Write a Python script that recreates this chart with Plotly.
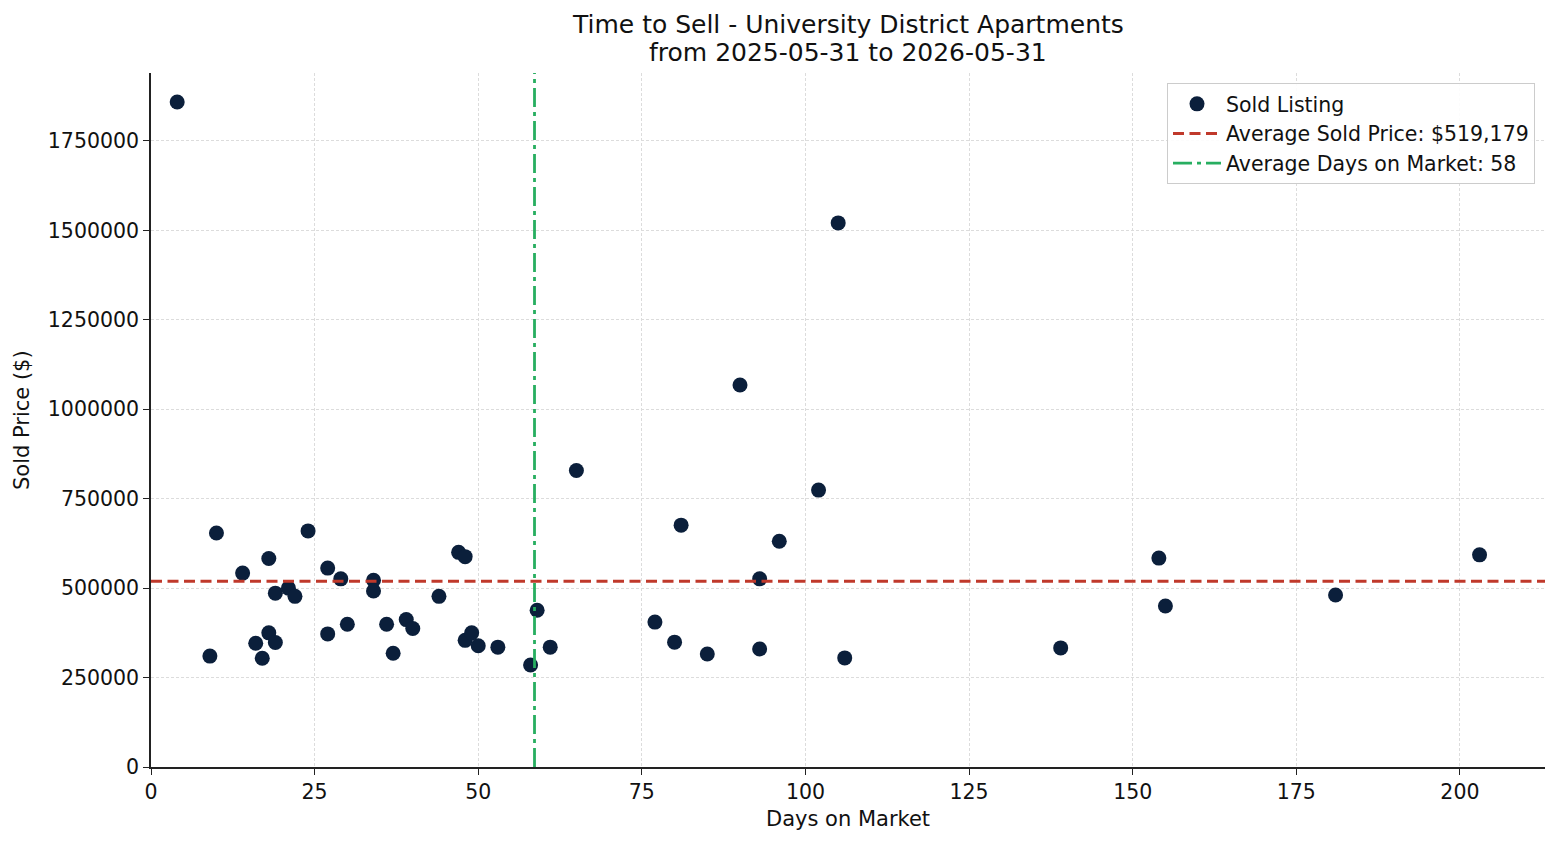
import plotly.graph_objects as go

# Data
days_on_market = [4, 9, 10, 14, 18, 16, 18, 19, 17, 19, 21, 22, 24, 27, 27, 29, 30, 34, 34, 36,
                  37, 39, 40, 44, 47, 48, 48, 49, 50, 53, 59, 58, 61,
                  90, 65, 102, 81, 96, 93, 77, 80, 85, 93, 106,
                  105, 139, 154, 155, 181, 203]
sold_price = [1859000, 310000, 654000, 542000, 583000, 346000, 375000, 348000, 304000, 486000,
              500000, 477000, 660000, 556000, 372000, 526000, 399000, 522000, 492000, 399000,
              318000, 412000, 387000, 477000, 600000, 588000, 354000, 375000, 339000, 335000,
              438000, 285000, 335000,
              1068000, 829000, 774000, 676000, 631000, 526000, 405000, 349000, 316000, 330000, 305000,
              1521000, 333000, 584000, 450000, 481000, 593000]
avg_price = 519179
avg_days = 58.6
title_lines = ["Time to Sell - University District Apartments", "from 2025-05-31 to 2026-05-31"]
x_label = "Days on Market"
y_label = "Sold Price ($)"

x_range = [0, 213]
y_range = [0, 1940000]

font_family = "DejaVu Sans"
ink = "#111111"

fig = go.Figure()
fig.add_trace(go.Scatter(
    x=days_on_market, y=sold_price, mode="markers", name="Sold Listing",
    marker=dict(size=15, color="#0b1f3b", line=dict(width=0)),
    hoverinfo="skip"))
fig.add_trace(go.Scatter(
    x=x_range, y=[avg_price, avg_price], mode="lines",
    name=f"Average Sold Price: ${avg_price:,}",
    line=dict(color="#c0392b", width=2.8, dash="11px,5.5px"), hoverinfo="skip"))
fig.add_trace(go.Scatter(
    x=[avg_days, avg_days], y=y_range, mode="lines",
    name=f"Average Days on Market: {int(avg_days)}",
    line=dict(color="#27ae60", width=2.8, dash="19px,5px,4px,5px"), hoverinfo="skip"))

axis_common = dict(
    showline=True, linecolor="#222222", linewidth=1.5, mirror=False,
    ticks="outside", ticklen=6, tickwidth=1.3, tickcolor="#222222",
    showgrid=True, gridcolor="#dcdcdc", griddash="3px,2px", gridwidth=0.8,
    zeroline=False, tickfont=dict(size=20.5, color=ink, family=font_family),
)

plot_l, plot_r, plot_t, plot_b = 151, 1545, 73, 767
ph = plot_b - plot_t
pw = plot_r - plot_l

annotations = [
    dict(text=title_lines[0], xref="paper", yref="paper", x=0.5, y=(plot_b - 25) / ph,
         xanchor="center", yanchor="middle", showarrow=False,
         font=dict(size=25, family=font_family, color=ink)),
    dict(text=title_lines[1], xref="paper", yref="paper", x=0.5, y=(plot_b - 53) / ph,
         xanchor="center", yanchor="middle", showarrow=False,
         font=dict(size=25, family=font_family, color=ink)),
    dict(text=x_label, xref="paper", yref="paper", x=0.5, y=-(819 - plot_b) / ph,
         xanchor="center", yanchor="middle", showarrow=False,
         font=dict(size=21, family=font_family, color=ink)),
    dict(text=y_label, xref="paper", yref="paper", x=-(plot_l - 22) / pw, y=0.5,
         xanchor="center", yanchor="middle", showarrow=False, textangle=-90,
         font=dict(size=21, family=font_family, color=ink)),
]

fig.update_layout(
    width=1560, height=845,
    margin=dict(l=plot_l, r=1560 - plot_r, t=plot_t, b=845 - plot_b),
    paper_bgcolor="white", plot_bgcolor="white",
    font=dict(family=font_family, color=ink),
    xaxis=dict(range=x_range, dtick=25, tick0=0, **axis_common),
    yaxis=dict(range=y_range, dtick=250000, tick0=0, tickformat="d", **axis_common),
    annotations=annotations,
    legend=dict(x=(1535 - plot_l) / pw, xanchor="right", y=(plot_b - 83) / ph, yanchor="top",
                bgcolor="rgba(255,255,255,0.9)", bordercolor="#cccccc", borderwidth=1,
                font=dict(size=20.5, family=font_family, color=ink),
                itemwidth=48, tracegroupgap=0),
    showlegend=True,
)

fig.write_html("out.html")
